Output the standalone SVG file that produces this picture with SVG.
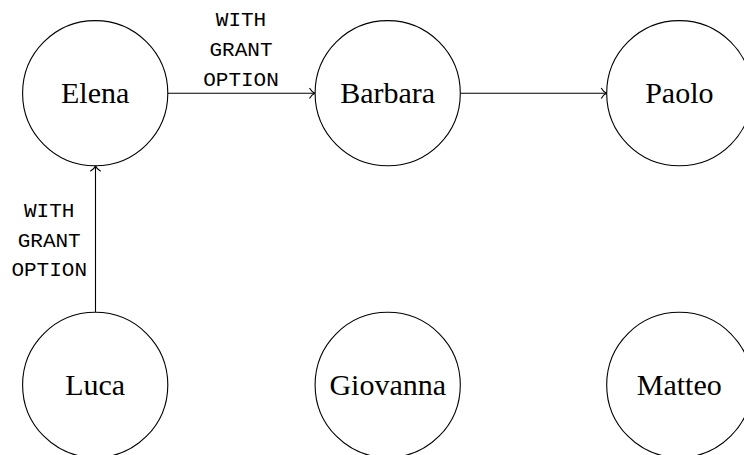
<svg xmlns="http://www.w3.org/2000/svg" width="744" height="455" viewBox="0 0 744 455">
<style>
.node circle{fill:#fff;stroke:#000;stroke-width:1.1}
.node text{font-family:"Liberation Serif","DejaVu Serif",serif;font-size:30px;text-anchor:middle;fill:#000}
.edge line{stroke:#000;stroke-width:1.1;fill:none}
.lbl{font-family:"Liberation Mono","DejaVu Sans Mono",monospace;font-size:21px;text-anchor:middle;fill:#000}
</style>
<defs>
<marker id="to" markerWidth="14" markerHeight="14" refX="10.5" refY="7" orient="auto" markerUnits="userSpaceOnUse" viewBox="0 0 14 14">
<path d="M5 1.8 C6.5 4.5 8.5 6.3 10.5 7 C8.5 7.7 6.5 9.5 5 12.2" fill="none" stroke="#000" stroke-width="1.1"/>
</marker>
</defs>
<g id="connectors" class="edge">
<line x1="167.7" y1="93.3" x2="315" y2="93.3" marker-end="url(#to)"/>
<line x1="460.3" y1="93.3" x2="606.7" y2="93.3" marker-end="url(#to)"/>
<line x1="95.5" y1="312.3" x2="95.5" y2="165.8" marker-end="url(#to)"/>
<text class="lbl" x="241" y="26">WITH</text>
<text class="lbl" x="241" y="56">GRANT</text>
<text class="lbl" x="241" y="85.7">OPTION</text>
<text class="lbl" x="49.2" y="216.7">WITH</text>
<text class="lbl" x="49.2" y="246.5">GRANT</text>
<text class="lbl" x="49.2" y="276">OPTION</text>
</g>
<g id="Elena" class="node"><circle cx="95.2" cy="93.2" r="72.6"/><text x="95.2" y="103.3">Elena</text></g>
<g id="Barbara" class="node"><circle cx="387.7" cy="93.2" r="72.6"/><text x="387.7" y="103.3">Barbara</text></g>
<g id="Paolo" class="node"><circle cx="679.3" cy="93.2" r="72.6"/><text x="679.3" y="103.3">Paolo</text></g>
<g id="Luca" class="node"><circle cx="95.2" cy="384.9" r="72.6"/><text x="95.2" y="395">Luca</text></g>
<g id="Giovanna" class="node"><circle cx="387.7" cy="384.9" r="72.6"/><text x="387.7" y="395">Giovanna</text></g>
<g id="Matteo" class="node"><circle cx="679.3" cy="384.9" r="72.6"/><text x="679.3" y="395">Matteo</text></g>
</svg>
